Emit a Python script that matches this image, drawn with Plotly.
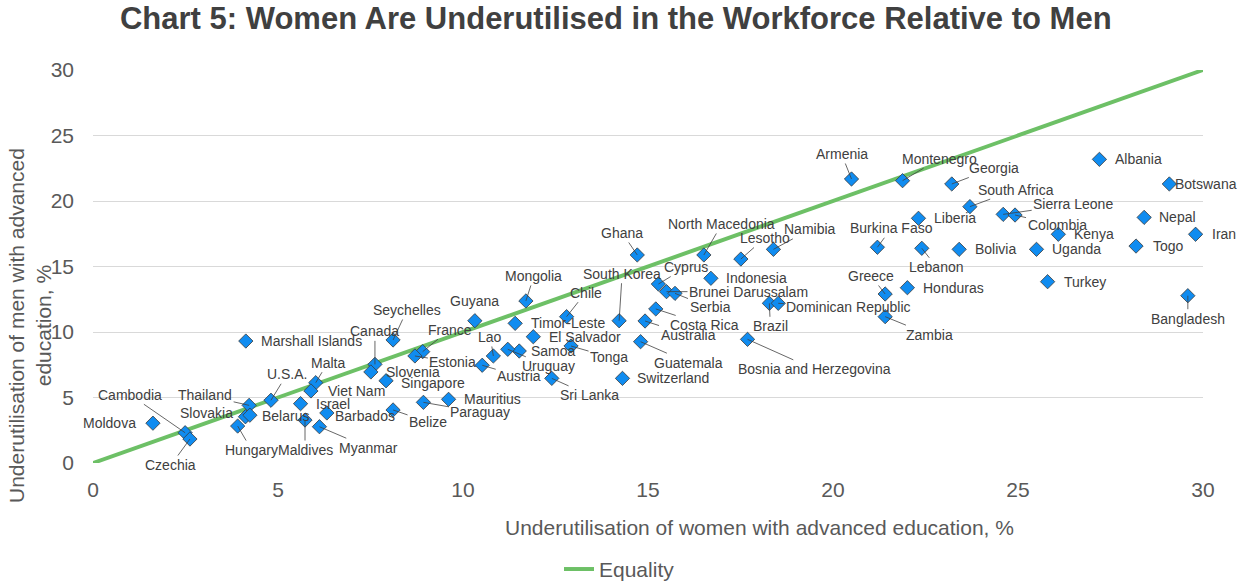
import plotly.graph_objects as go

# ---------------- data ----------------
countries = [
    "Moldova", "Cambodia", "Czechia", "Thailand", "Slovakia", "Belarus", "Hungary",
    "U.S.A.", "Malta", "Viet Nam", "Israel", "Maldives", "Barbados", "Myanmar",
    "Marshall Islands", "Canada", "Seychelles", "Slovenia", "Singapore", "France",
    "Estonia", "Guyana", "Mongolia", "Timor-Leste", "Chile", "El Salvador", "Lao",
    "Samoa", "Uruguay", "Austria", "Tonga", "Sri Lanka", "South Korea", "Mauritius",
    "Paraguay", "Belize", "Switzerland", "Guatemala", "Australia", "Costa Rica",
    "Ghana", "Cyprus", "Brunei Darussalam", "Serbia", "North Macedonia", "Indonesia",
    "Lesotho", "Namibia", "Brazil", "Dominican Republic", "Bosnia and Herzegovina",
    "Armenia", "Burkina Faso", "Greece", "Zambia", "Honduras", "Montenegro", "Georgia",
    "Liberia", "Lebanon", "Bolivia", "South Africa", "Sierra Leone", "Colombia",
    "Kenya", "Uganda", "Turkey", "Albania", "Botswana", "Nepal", "Togo", "Iran",
    "Bangladesh",
]
women = [
    1.62, 2.49, 2.62, 4.22, 4.12, 4.24, 3.91,
    4.81, 6.02, 5.89, 5.61, 5.73, 6.32, 6.12,
    4.13, 7.62, 8.11, 7.51, 7.92, 8.91,
    8.70, 10.32, 11.70, 11.41, 12.80, 11.90, 10.82,
    11.52, 11.21, 10.52, 12.92, 12.40, 14.22, 9.61,
    8.93, 8.11, 14.31, 14.80, 14.92, 15.21,
    14.71, 15.28, 15.50, 15.73, 16.51, 16.70,
    17.51, 18.39, 18.28, 18.52, 17.69,
    20.50, 21.20, 21.41, 21.41, 22.01, 21.88, 23.21,
    22.31, 22.40, 23.41, 23.70, 24.60, 24.92,
    26.09, 25.50, 25.80, 27.20, 29.09, 28.41, 28.19, 29.80,
    29.59,
]
men = [
    3.04, 2.31, 1.83, 4.40, 3.53, 3.65, 2.82,
    4.79, 6.13, 5.50, 4.53, 3.28, 3.82, 2.77,
    9.31, 7.53, 9.39, 6.95, 6.28, 8.50,
    8.17, 10.86, 12.37, 10.66, 11.17, 9.64, 8.17,
    8.55, 8.68, 7.46, 8.93, 6.46, 10.86, 4.86,
    4.63, 4.05, 6.46, 9.26, 10.84, 11.76,
    15.88, 13.66, 13.08, 12.95, 15.88, 14.10,
    15.57, 16.31, 12.19, 12.19, 9.44,
    21.68, 16.47, 12.90, 11.17, 13.38, 21.55, 21.30,
    18.68, 16.39, 16.31, 19.57, 18.98, 18.93,
    17.46, 16.31, 13.84, 23.18, 21.30, 18.75, 16.56, 17.46,
    12.77,
]
equality_x = [0, 30]
equality_y = [0, 30]

x_ticks = [0, 5, 10, 15, 20, 25, 30]
y_ticks = [0, 5, 10, 15, 20, 25, 30]

# ---------------- label placement (pixel offsets of label centre, leader line?) ----------------
label_style = {
    "Moldova": (-43, 0, False), "Cambodia": (-55, -38, True), "Czechia": (-19, 26, True),
    "Thailand": (-44, -10, True), "Slovakia": (-39, -4, False), "Belarus": (36, 1, False),
    "Hungary": (14, 24, True), "U.S.A.": (16, -26, True), "Malta": (12, -20, True),
    "Viet Nam": (46, 0, False), "Israel": (32, 0, False), "Maldives": (0, 30, True),
    "Barbados": (38, 3, False), "Myanmar": (49, 21, True), "Marshall Islands": (66, 0, False),
    "Canada": (0, -33, True), "Seychelles": (14, -30, True), "Slovenia": (42, 0, False),
    "Singapore": (47, 2, False), "France": (27, -22, True), "Estonia": (38, 6, True),
    "Guyana": (0, -20, False), "Mongolia": (8, -25, True), "Timor-Leste": (53, 0, False),
    "Chile": (19, -24, True), "El Salvador": (52, 0, False), "Lao": (-3, -19, True),
    "Samoa": (34, 0, False), "Uruguay": (41, 17, True), "Austria": (37, 11, True),
    "Tonga": (38, 11, True), "Sri Lanka": (38, 17, True), "South Korea": (3, -47, True),
    "Mauritius": (44, 0, False), "Paraguay": (57, 10, True), "Belize": (35, 12, True),
    "Switzerland": (51, 0, False), "Guatemala": (48, 21, True), "Australia": (43, 14, True),
    "Costa Rica": (49, 16, True), "Ghana": (-15, -22, True), "Cyprus": (28, -17, True),
    "Brunei Darussalam": (82, 0, True), "Serbia": (35, 14, True),
    "North Macedonia": (18, -31, True), "Indonesia": (46, 0, False),
    "Lesotho": (24, -21, True), "Namibia": (37, -20, True), "Brazil": (1, 23, True),
    "Dominican Republic": (70, 4, True), "Bosnia and Herzegovina": (67, 30, True),
    "Armenia": (-10, -25, True), "Burkina Faso": (14, -19, True), "Greece": (-14, -18, True),
    "Zambia": (44, 18, True), "Honduras": (46, 0, False), "Montenegro": (37, -22, True),
    "Georgia": (42, -16, True), "Liberia": (37, 0, False), "Lebanon": (15, 19, True),
    "Bolivia": (36, 0, False), "South Africa": (46, -17, True),
    "Sierra Leone": (70, -10, True), "Colombia": (42, 10, True), "Kenya": (36, 0, False),
    "Uganda": (40, 0, False), "Turkey": (37, 0, False), "Albania": (39, 0, False),
    "Botswana": (37, 0, False), "Nepal": (33, 0, False), "Togo": (32, 0, False),
    "Iran": (28, 0, False), "Bangladesh": (0, 23, True),
}

FONT = "Liberation Sans, Arial, sans-serif"
TEXT = "#404040"
AXIS_TXT = "#595959"

fig = go.Figure()
fig.add_trace(go.Scatter(
    x=equality_x, y=equality_y, mode="lines", name="Equality",
    line=dict(color="#6DC066", width=4), hoverinfo="skip",
))
fig.add_trace(go.Scatter(
    x=women, y=men, mode="markers", showlegend=False, text=countries,
    marker=dict(symbol="diamond", size=11, color="#108CF0",
                line=dict(color="#3A3A3A", width=0.8)),
))

annotations = []
for name, xv, yv in zip(countries, women, men):
    dx, dy, leader = label_style[name]
    if leader:
        annotations.append(dict(
            x=xv, y=yv, xref="x", yref="y", text=name, showarrow=True,
            ax=dx, ay=dy, arrowhead=0, arrowwidth=0.8, arrowcolor="#404040",
            standoff=0, startstandoff=0,
            font=dict(family=FONT, size=14, color=TEXT),
        ))
    else:
        annotations.append(dict(
            x=xv, y=yv, xref="x", yref="y", text=name, showarrow=False,
            xshift=dx, yshift=-dy, xanchor="center", yanchor="middle",
            font=dict(family=FONT, size=14, color=TEXT),
        ))

# axis titles as annotations (offset like reference)
annotations.append(dict(
    text="Underutilisation of men with advanced<br>education, %",
    xref="paper", yref="paper", x=(30 - 93) / 1110, y=(463 - 326) / 393,
    xanchor="center", yanchor="middle", showarrow=False, textangle=-90,
    font=dict(family=FONT, size=21, color=AXIS_TXT),
))
annotations.append(dict(
    text="Underutilisation of women with advanced education, %",
    xref="paper", yref="paper", x=(759 - 93) / 1110, y=-(527 - 463) / 393,
    xanchor="center", yanchor="middle", showarrow=False,
    font=dict(family=FONT, size=21, color=AXIS_TXT),
))

fig.update_layout(
    width=1239, height=581,
    margin=dict(l=93, r=36, t=70, b=118),
    paper_bgcolor="white", plot_bgcolor="white",
    title=dict(
        text="<b>Chart 5: Women Are Underutilised in the Workforce Relative to Men</b>",
        x=0.497, xref="container", xanchor="center", y=0.968, yanchor="middle",
        font=dict(family=FONT, size=31, color=TEXT),
    ),
    font=dict(family=FONT, color=AXIS_TXT),
    showlegend=True,
    legend=dict(
        orientation="h", xref="container", yref="container",
        x=0.5, xanchor="center", y=0.02, yanchor="middle",
        font=dict(family=FONT, size=21, color=AXIS_TXT),
    ),
    annotations=annotations,
)
fig.update_xaxes(
    range=[0, 30], tickvals=x_ticks, showgrid=False, zeroline=False,
    showline=False, ticks="", ticklabelstandoff=12,
    tickfont=dict(family=FONT, size=21, color=AXIS_TXT),
)
fig.update_yaxes(
    range=[0, 30], tickvals=y_ticks, showgrid=True, gridcolor="#D9D9D9",
    gridwidth=1, zeroline=False, showline=False, ticks="", ticklabelstandoff=18,
    tickfont=dict(family=FONT, size=21, color=AXIS_TXT),
)

fig.write_html(
    "out.html",
    config={"displayModeBar": False},
    post_script="document.body.style.margin='0';document.body.style.padding='0';",
)
